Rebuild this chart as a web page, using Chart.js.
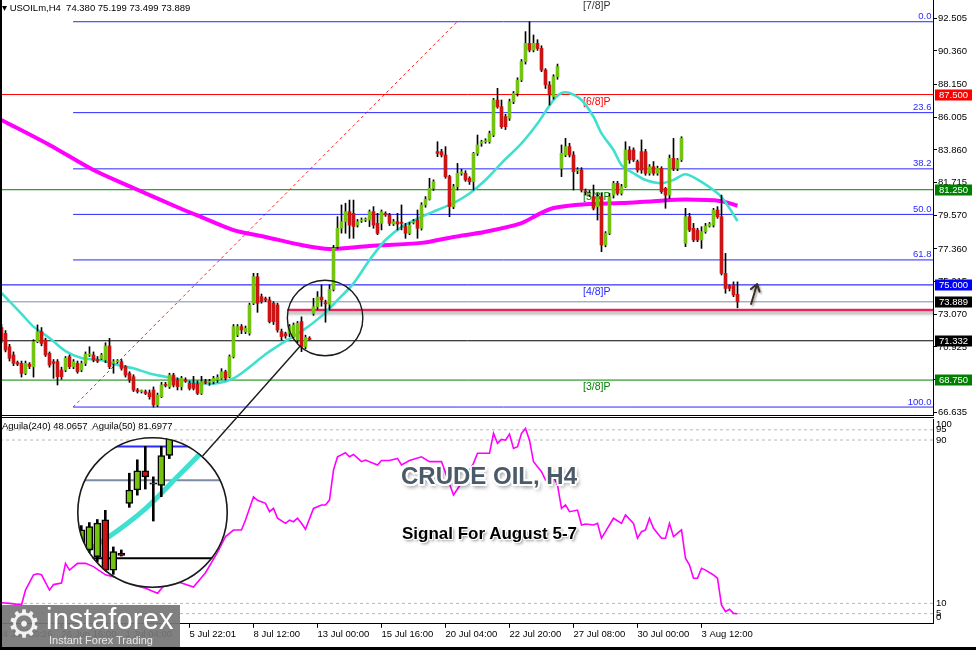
<!DOCTYPE html>
<html>
<head>
<meta charset="utf-8">
<script src="https://cdn.jsdelivr.net/npm/chart.js@4.4.1/dist/chart.umd.min.js"></script>
<style>
  html, body { margin: 0; padding: 0; background: #fff; }
  body { width: 976px; height: 650px; position: relative; overflow: hidden; font-family: 'Liberation Sans', Arial, sans-serif; }
  canvas { position: absolute; left: 0; }
  #price { top: 0; }
  #osc { top: 417px; }
  #overlay { top: 0; pointer-events: none; z-index: 5; }
  #lens { position: absolute; left: 77px; top: 437px; width: 151px; height: 151px; border-radius: 50%; overflow: hidden; background: #fff; z-index: 3; }
  #lens canvas { top: 0; }
  .mt { position: absolute; font-size: 9.5px; color: #000; white-space: nowrap; line-height: 10px; z-index: 4; }
  #title { position: absolute; left: 401px; top: 464px; font-weight: bold; font-size: 24px; line-height: 24px; color: #4b5a68; white-space: nowrap; z-index: 4;
    text-shadow: -1.5px -1.5px 0 #fff, 1.5px -1.5px 0 #fff, -1.5px 1.5px 0 #fff, 1.5px 1.5px 0 #fff, 0 -2px 0 #fff, 0 2px 0 #fff, -2px 0 0 #fff, 2px 0 0 #fff, 2px 3px 4px rgba(0,0,0,0.55); }
  #signal { position: absolute; left: 402px; top: 525px; font-weight: bold; font-size: 17px; line-height: 17px; color: #000; white-space: nowrap; z-index: 4;
    text-shadow: -1px -1px 0 #fff, 1px -1px 0 #fff, -1px 1px 0 #fff, 1px 1px 0 #fff, 2px 2px 3px rgba(0,0,0,0.5); }
  #logo { position: absolute; left: 2px; top: 605px; width: 178px; height: 42px; background: rgba(118,118,118,0.93); z-index: 6; color: #fff; }
  #logo .gear { position: absolute; left: 5px; top: -3px; font-family: 'DejaVu Sans'; font-size: 38px; line-height: 44px; color: #f2f2f2; }
  #logo .name { position: absolute; left: 44px; top: -1px; font-size: 29px; line-height: 30px; letter-spacing: 0.2px; }
  #logo .sub { position: absolute; left: 47px; top: 29px; font-size: 11px; line-height: 12px; color: #e8e8e8; }
  #edgeL { position: absolute; left: 0; top: 0; width: 2px; height: 650px; background: #000; z-index: 7; }
  #edgeB { position: absolute; left: 0; top: 647px; width: 976px; height: 3px; background: #000; z-index: 7; }
</style>
</head>
<body>
<canvas id="price" width="976" height="417"></canvas>
<canvas id="osc" width="976" height="233"></canvas>
<div id="lens"><canvas id="lensChart" width="151" height="151"></canvas></div>
<canvas id="overlay" width="976" height="650"></canvas>
<div class="mt" style="left:2px;top:3px;">&#9662; USOILm,H4&nbsp; 74.380 75.199 73.499 73.889</div>
<div class="mt" style="left:2px;top:421px;">Aguila(240) 48.0657&nbsp; Aguila(50) 81.6977</div>
<div id="title">CRUDE OIL, H4</div>
<div id="signal">Signal For August 5-7</div>
<div id="logo"><span class="gear">&#9881;</span><span class="name">instaforex</span><span class="sub">Instant Forex Trading</span></div>
<div id="edgeL"></div>
<div id="edgeB"></div>
<script>
// H4 candles, one per bar (index = bar number)
const opens = [72.2,71.82,70.94,70.4,69.9,69.85,69.19,69.8,69.63,71.27, 71.93,71.38,70.51,69.96,69.96,69.41,69.41,70.29,69.63,69.85,
  69.41,69.85,70.4,70.4,70.1,70.18,70.07,70.99,69.85,69.96, 69.96,69.63,69.19,68.97,68.1,68.0,67.99,67.92,68.1,67.12,
  67.66,68.43,68.32,69.08,68.76,68.32,68.76,68.54,68.54,68.49, 67.88,68.65,68.6,68.65,68.76,68.87,69.3,68.97,70.29,71.71,
  72.26,71.93,71.82,73.79,75.54,74.23,74.1,74.01,73.79,73.68, 71.93,71.8,71.82,71.6,71.38,72.59,70.94,71.5,73.13,73.57,
  74.2,73.8,73.72,74.7,77.51,78.72,79.15,79.81,79.7,78.93, 79.2,79.26,79.26,79.81,79.04,79.04,79.7,79.59,79.0,79.15,
  79.1,78.83,78.39,79.1,79.26,78.72,80.25,80.62,81.34,83.75, 83.75,83.53,82.11,80.14,81.45,82.33,82.33,82.0,81.78,83.64,
  84.3,84.4,84.4,84.84,87.14,86.7,86.05,85.94,87.03,87.58, 88.45,89.66,90.86,90.42,90.86,90.53,89.11,88.13,87.36,88.67,
  82.65,83.53,84.08,83.53,82.5,82.54,81.15,80.95,80.79,80.14, 80.79,77.62,78.39,80.9,81.67,81.01,81.45,83.86,83.86,83.09,
  83.75,83.75,82.33,82.76,82.33,82.65,81.34,80.9,83.31,82.65, 83.21,77.73,79.48,78.72,78.6,77.95,78.5,78.87,78.93,79.92,
  79.48,75.76,74.93,74.99,74.38];
const highs = [72.4,72.0,71.1,70.6,70.0,70.0,70.0,69.9,71.4,72.37, 72.2,71.5,70.6,70.1,70.1,69.6,70.3,70.4,70.1,70.0,
  70.0,70.6,70.94,70.6,70.3,70.5,71.2,71.49,70.1,70.1, 70.1,69.7,69.3,69.1,68.2,68.1,68.1,68.1,68.3,67.9,
  68.6,68.6,69.2,69.2,68.9,69.0,68.9,68.7,69.0,68.7, 69.0,68.8,68.8,69.0,69.1,69.5,69.4,70.4,72.4,72.4,
  72.4,72.3,73.8,75.76,75.76,74.4,74.2,74.2,73.9,73.8, 72.1,71.9,72.4,72.5,72.6,72.9,71.7,71.6,74.12,74.56,
  75.0,74.0,75.0,77.6,79.48,80.25,80.36,80.57,80.57,79.3, 79.4,79.4,79.92,80.14,79.7,79.92,79.8,79.7,79.3,79.7,
  80.25,79.04,79.1,79.3,79.92,80.4,80.8,82.0,81.9,84.4, 83.9,84.08,82.2,81.6,82.98,82.6,82.5,82.1,83.7,84.84,
  84.5,84.6,85.1,87.25,87.91,87.14,86.2,87.2,87.7,88.6, 89.8,91.63,92.28,91.41,91.1,90.7,89.2,88.35,88.8,89.5,
  84.19,84.62,84.3,83.75,82.7,82.7,81.3,81.2,81.56,81.01, 81.01,78.5,81.01,81.8,81.8,81.6,84.4,84.08,84.0,83.2,
  84.52,83.9,82.9,83.1,82.8,82.76,81.4,83.53,84.62,83.3, 84.73,80.03,79.7,79.04,78.72,78.82,79.04,79.1,80.03,80.14,
  80.9,77.07,75.0,75.2,75.199];
const lows = [71.2,70.6,70.0,69.7,69.7,68.95,69.1,69.5,68.95,71.2, 71.0,70.3,69.6,68.87,68.43,68.8,69.3,69.5,69.5,69.2,
  69.3,69.7,70.3,69.95,69.9,70.1,69.9,69.5,69.2,69.85, 69.4,68.95,68.6,68.0,67.9,67.9,67.8,67.5,66.98,67.0,
  67.6,68.3,68.2,68.3,68.1,68.1,68.6,68.1,68.1,67.8, 67.8,68.5,68.4,68.5,68.6,68.8,68.75,68.9,70.2,71.6,
  71.8,71.8,71.7,73.7,73.2,73.8,73.9,72.5,72.4,71.9, 71.4,71.5,71.6,71.5,71.2,70.62,70.8,71.4,73.0,73.4,
  73.6,72.55,73.35,74.6,77.4,78.4,78.39,78.06,78.06,78.8, 79.1,79.15,78.83,78.72,78.3,78.61,79.5,78.9,78.9,78.61,
  78.61,78.06,78.3,79.0,78.06,78.6,80.1,80.57,81.2,83.42, 83.4,82.0,79.48,80.0,81.23,82.2,81.8,81.6,81.23,83.5,
  84.1,84.3,84.3,84.73,86.6,85.28,85.2,85.8,86.9,87.4, 88.35,89.5,90.3,90.3,90.4,89.0,87.9,86.81,87.2,88.5,
  82.11,83.42,83.4,81.23,82.3,81.1,80.9,80.8,79.92,79.26, 77.18,77.5,78.3,80.7,80.9,80.9,81.4,82.98,83.1,82.4,
  82.33,82.2,82.2,82.2,82.2,81.01,80.03,80.68,82.5,82.5, 83.1,77.51,78.5,77.84,77.84,77.4,78.39,78.8,78.8,79.37,
  75.65,74.45,74.6,74.23,73.499];
const closes = [71.4,70.73,70.18,69.85,69.8,69.19,69.85,69.65,71.27,71.93, 71.16,70.4,69.74,69.85,68.97,68.97,70.18,69.63,69.96,69.3,
  69.85,70.46,70.45,70.07,70.0,70.4,70.99,69.63,69.96,70.0, 69.52,69.08,68.76,68.1,68.0,68.05,67.88,67.66,67.12,67.77,
  68.43,68.4,69.08,68.43,68.32,68.87,68.7,68.21,68.21,67.88, 68.65,68.6,68.65,68.87,68.93,69.3,68.87,70.29,72.26,72.26,
  72.04,72.15,73.68,75.54,73.79,73.9,74.0,72.59,72.59,72.04, 71.6,71.65,72.26,72.37,72.48,70.94,71.55,71.42,73.57,74.2,
  74.0,73.76,74.7,77.4,78.72,79.15,79.81,78.93,78.83,79.15, 79.26,79.3,79.81,78.93,78.39,79.81,79.6,79.04,79.15,79.0,
  79.04,78.39,78.93,79.15,78.72,80.25,80.62,81.34,81.78,83.64, 83.53,82.11,80.14,81.45,82.33,82.43,81.89,81.78,83.64,84.19,
  84.4,84.42,84.95,87.14,86.7,85.39,85.39,87.03,87.58,88.45, 89.66,90.86,90.42,90.86,90.53,89.11,88.13,87.47,88.67,89.33,
  83.64,84.08,83.53,82.43,82.54,81.23,81.1,81.0,80.03,80.79, 77.62,78.39,80.79,81.67,81.01,81.45,83.86,83.21,83.21,82.54,
  82.54,82.33,82.76,82.33,82.65,81.12,80.9,83.31,82.65,83.21, 84.62,79.48,78.6,77.95,77.95,78.5,78.87,79.0,79.92,79.48,
  75.76,74.77,74.77,74.34,73.889];

// moving averages (bar index, value)
const fastIdx = [0,5,8,12,16,20,25,29,33,37,41,45,50,54,58,62,66,70,75,80,84,88,92,96,100,105,109,113,117,121,125,130,134,138,140,142,145,148,150,153,155,158,161,165,168,171,175,180,184];
const fastVal = [74.47,73.1,72.26,71.51,70.65,70.2,70.05,69.74,69.52,69.19,68.97,68.76,68.54,68.54,68.86,69.6,70.45,71.15,71.95,72.95,74.0,75.1,76.63,77.95,78.8,79.47,79.92,80.37,81.0,81.89,83.0,84.3,85.6,87.14,87.6,87.6,87.14,86.04,84.95,83.86,82.87,82.33,81.89,81.68,81.89,82.27,81.76,80.77,79.2];
const slowIdx = [0,12,23,33,44,50,58,66,75,82,92,105,113,121,130,134,138,146,155,163,171,180,184];
const slowVal = [85.83,84.19,82.54,81.36,80.1,79.45,78.6,78.15,77.62,77.36,77.56,77.76,78.15,78.49,79.06,79.6,80.05,80.3,80.37,80.5,80.6,80.5,80.2];

// Aguila oscillator (bar index, value)
const oscIdx = [0,2,5,6,8,9,10,12,13,15,16,17,19,21,23,26,30,33,36,39,42,45,48,51,54,56,58,60,61,63,64,66,67,68,69,71,72,73,74,75,76,78,80,81,82,83,84,86,87,88,90,91,94,95,97,99,100,102,105,107,110,113,114,116,118,119,122,123,124,125,126,127,128,129,130,131,132,133,135,136,138,139,140,141,142,144,145,146,148,149,150,151,153,155,156,158,159,160,161,162,163,165,166,167,168,170,171,172,173,174,175,176,178,179,180,181,182,183,184];
const oscVal = [10.3,10.0,9.3,16.5,23.9,24.5,24.0,16.5,19.2,20,29.6,26.3,29.6,29.6,28,24,22,19,17.4,15,22,20,18,25,35,42.7,45.9,45.9,50.8,62.2,60.5,59,54.9,56.5,51.7,49.2,50.8,50,51.7,49.2,46.3,56.5,58.2,58.2,60.6,75.3,81.8,83.8,81.8,82.9,79.4,80.2,77.8,80,80,81,77.8,80,81.8,79.4,79.4,63.1,66,72,78.6,83.5,83.5,93.3,88.4,90.3,89.9,92.9,85.9,86.7,93.3,95.7,89.9,79.4,74.5,70.4,72,68,56.5,58.2,54.9,55.7,48.4,48.9,48.4,49.2,41.9,45.1,51.7,49.2,53.3,49.2,41.9,45.1,46,51.7,46.8,41.9,41.9,49.2,42.7,46,32.1,28.8,22.3,22.3,27.2,26.3,23.9,22.3,9.2,5.9,7.1,5.1,4.9];
const oscGrid = [95, 90, 10, 5];
const oscLabels = [100, 95, 90, 10, 5, 0];

// axes
const priceTicks = [92.505, 90.360, 88.150, 86.005, 83.860, 81.715, 79.570, 77.360, 75.215, 73.070, 70.925, 68.780, 66.635];
const timeTickIdx = [-1, 15, 31, 47, 63, 79, 95, 111, 127, 143, 159, 175];
const timeTickLabels = ['24 Jun 20:26', '26 Jun 16:00', '1 Jul 04:00', '5 Jul 22:01', '8 Jul 12:00', '13 Jul 00:00', '15 Jul 16:00', '20 Jul 04:00', '22 Jul 20:00', '27 Jul 08:00', '30 Jul 00:00', '3 Aug 12:00'];

// fibonacci retracement
const fibLabels = ['0.0', '23.6', '38.2', '50.0', '61.8', '100.0'];
const fibPrices = [92.28, 86.31, 82.62, 79.63, 76.64, 66.98];
const fibStartIdx = 17.9;
const fibTrendIdx = [17.9, 113.9];
const fibTrendVal = [66.98, 92.28];

// murrey math levels
const murreyLabels = ['[7/8]P', '[6/8]P', '[5/8]P', '[4/8]P', '[3/8]P'];
const murreyVals = [93.75, 87.5, 81.25, 75.0, 68.75];
const murreyColors = ['#333333', '#ff0000', '#008000', '#2a2aff', '#008000'];
const murreyLabelIdx = 145.4;

// other lines and the boxes on the price scale
const bidPrice = 73.889;
const pivotLevel = 73.35, pivotStartIdx = 71.4;
const supportLevel = 71.332;
const tagVals = [87.5, 81.25, 75.0, 73.889, 71.332, 68.75];
const tagColors = ['#ff0000', '#008000', '#0000ff', '#000000', '#000000', '#008000'];

// magnifier
const lensCenterIdx = 80.9, lensCenterPrice = 72.83, lensZoom = 2;
const lensLeft = 77, lensTop = 437, lensSize = 151;
const arrowFrom = [187.4, 73.75], arrowTo = [188.9, 75.06];

const xMin = 0.125, xMax = 232.875;
const BULL = '#74c212', BEAR = '#cc1414';
const FONT = '"Liberation Sans", Arial, sans-serif';
const FIB = '#2828ff';

function candleSets(bodyW, wickW, edge) {
  return [
    { type: 'bar', label: 'wick', data: highs.map((h, i) => ({ x: i, y: [lows[i], h] })),
      backgroundColor: '#000', barThickness: wickW, grouped: false, order: 1 },
    { type: 'bar', label: 'body', data: opens.map((o, i) => ({ x: i, y: [o, closes[i]] })),
      backgroundColor: opens.map((o, i) => closes[i] >= o ? BULL : BEAR),
      borderColor: '#000', borderWidth: edge, borderSkipped: false,
      barThickness: bodyW, minBarLength: 1, grouped: false, order: 0 }
  ];
}

function hline(v, from, color, width, dash, label) {
  return { type: 'line', label: label || 'level', data: [{ x: from, y: v }, { x: xMax + 2, y: v }],
    borderColor: color, borderWidth: width, borderDash: dash || [], pointRadius: 0, order: 6 };
}

function curve(idx, vals, color, width, label) {
  return { type: 'line', label, data: idx.map((x, k) => ({ x, y: vals[k] })),
    borderColor: color, borderWidth: width, pointRadius: 0, tension: 0.3, order: 3 };
}

const priceSets = [
  ...candleSets(3, 1, 0),
  curve(fastIdx, fastVal, '#40e0d0', 2.6, 'fast'),
  curve(slowIdx, slowVal, '#ff00ff', 4, 'slow'),
  ...fibPrices.map(v => hline(v, fibStartIdx, FIB, 1)),
  ...murreyVals.map((v, k) => hline(v, xMin - 2, murreyColors[k] === '#2a2aff' ? '#0000ff' : murreyColors[k], 1)),
  hline(bidPrice, xMin - 2, '#7d8ca3', 1),
  hline(supportLevel, xMin - 2, '#000', 1),
  Object.assign(hline(pivotLevel, pivotStartIdx, '#e5245a', 2.5, [], 'pivot'), { order: 4 }),
  { type: 'line', label: 'trend', data: fibTrendIdx.map((x, k) => ({ x, y: fibTrendVal[k] })),
    borderColor: '#ff2020', borderWidth: 1, borderDash: [3, 3], pointRadius: 0, order: 6 }
];

const priceDecor = {
  id: 'priceDecor',
  beforeDatasetsDraw(chart) {
    const { ctx, chartArea: a, scales: { x, y } } = chart;
    ctx.save();
    ctx.font = '10.5px ' + FONT;
    ctx.textAlign = 'left';
    ctx.textBaseline = 'top';
    murreyVals.forEach((v, k) => {
      ctx.fillStyle = murreyColors[k];
      ctx.fillText(murreyLabels[k], x.getPixelForValue(murreyLabelIdx), y.getPixelForValue(v) + 2);
    });
    ctx.font = '9.5px ' + FONT;
    ctx.textAlign = 'right';
    ctx.textBaseline = 'alphabetic';
    ctx.fillStyle = FIB;
    fibPrices.forEach((v, k) => ctx.fillText(fibLabels[k], a.right - 1.5, y.getPixelForValue(v) - 2.5));
    ctx.restore();
  },
  beforeDatasetDraw(chart, args) {
    if (chart.data.datasets[args.index].label === 'pivot') {
      chart.ctx.save();
      chart.ctx.shadowColor = 'rgba(0,0,0,0.35)';
      chart.ctx.shadowOffsetY = 3;
      chart.ctx.shadowBlur = 3;
    }
  },
  afterDatasetDraw(chart, args) {
    if (chart.data.datasets[args.index].label === 'pivot') chart.ctx.restore();
  },
  afterDraw(chart) {
    const { ctx, chartArea: a, scales: { y } } = chart;
    ctx.save();
    ctx.fillStyle = '#000';
    ctx.fillRect(0, a.bottom, a.right + 1, 1);
    ctx.font = '9.5px ' + FONT;
    ctx.textAlign = 'center';
    ctx.textBaseline = 'middle';
    tagVals.forEach((v, k) => {
      const py = Math.round(y.getPixelForValue(v));
      ctx.fillStyle = tagColors[k];
      ctx.fillRect(a.right + 2, py - 5.5, 37, 11);
      ctx.fillStyle = '#fff';
      ctx.fillText(v.toFixed(3), a.right + 20.5, py + 0.5);
    });
    ctx.restore();
  }
};

const price = new Chart(document.getElementById('price'), {
  type: 'bar',
  data: { datasets: priceSets },
  options: {
    responsive: false, animation: false, devicePixelRatio: 1,
    layout: { padding: { left: 2, top: 0, right: 0, bottom: 2 } },
    plugins: { legend: { display: false }, tooltip: { enabled: false } },
    scales: {
      x: { type: 'linear', min: xMin, max: xMax, offset: false, display: false },
      y: { type: 'linear', position: 'right', min: 66.458, max: 93.707,
        afterFit: s => { s.width = 43; s.paddingTop = 0; s.paddingBottom = 0; },
        afterBuildTicks: s => { s.ticks = priceTicks.map(v => ({ value: v })); },
        ticks: { autoSkip: false, padding: 1, color: '#000', font: { family: FONT, size: 9.5 }, callback: v => v.toFixed(3) },
        grid: { display: true, drawOnChartArea: false, drawTicks: true, tickLength: 4, color: '#000' },
        border: { display: true, color: '#000' } }
    }
  },
  plugins: [priceDecor]
});

const oscDecor = {
  id: 'oscDecor',
  afterDraw(chart) {
    const { ctx, chartArea: a, scales: { y } } = chart;
    ctx.save();
    ctx.fillStyle = '#000';
    ctx.fillRect(0, 0, a.right + 1, 1);
    ctx.font = '9.5px ' + FONT;
    ctx.textAlign = 'left';
    ctx.textBaseline = 'middle';
    oscLabels.forEach(v => {
      const py = Math.min(Math.max(y.getPixelForValue(v), a.top + 5), a.bottom - 6);
      ctx.fillText(String(v), a.right + 3, py);
    });
    ctx.restore();
  }
};

const osc = new Chart(document.getElementById('osc'), {
  type: 'line',
  data: { datasets: [
    { label: 'aguila', data: oscIdx.map((x, k) => ({ x, y: oscVal[k] })), borderColor: '#ff00ff', borderWidth: 1.6, pointRadius: 0, order: 0 },
    ...oscGrid.map(v => ({ label: 'grid', data: [{ x: xMin - 2, y: v }, { x: xMax + 2, y: v }], borderColor: '#b8b8b8', borderWidth: 1, borderDash: [3, 3], pointRadius: 0, order: 5 }))
  ] },
  options: {
    responsive: false, animation: false, devicePixelRatio: 1,
    layout: { padding: { left: 2, top: 2.6, right: 0, bottom: 0 } },
    plugins: { legend: { display: false }, tooltip: { enabled: false } },
    scales: {
      x: { type: 'linear', min: xMin, max: xMax, offset: false,
        afterFit: s => { s.height = 26.2; s.paddingLeft = 0; s.paddingRight = 0; },
        afterBuildTicks: s => { s.ticks = timeTickIdx.map(v => ({ value: v })); },
        ticks: { autoSkip: false, maxRotation: 0, align: 'start', padding: 1, color: '#000', font: { family: FONT, size: 9.5 },
          callback: (v, k) => timeTickLabels[k] },
        grid: { drawOnChartArea: false, drawTicks: true, tickLength: 4, color: '#000' },
        border: { display: true, color: '#000' } },
      y: { type: 'linear', position: 'right', min: 0, max: 100,
        afterFit: s => { s.width = 43; s.paddingTop = 0; s.paddingBottom = 0; },
        ticks: { display: false }, grid: { display: false },
        border: { display: true, color: '#000' } }
    }
  },
  plugins: [oscDecor]
});

// magnifier: same series, scaled around the small circle
const px = price.scales.x, py = price.scales.y;
const pxPerBar = px.getPixelForValue(1) - px.getPixelForValue(0);
const pxPerUnit = py.getPixelForValue(0) - py.getPixelForValue(1);
const halfBars = lensSize / 2 / lensZoom / pxPerBar;
const halfUnits = lensSize / 2 / lensZoom / pxPerUnit;

new Chart(document.getElementById('lensChart'), {
  type: 'bar',
  data: { datasets: [
    ...candleSets(7, 2, 1.5),
    curve(fastIdx, fastVal, '#40e0d0', 5, 'fast'),
    hline(75.0, xMin - 2, '#2a2aff', 2),
    hline(bidPrice, xMin - 2, '#7d8ca3', 2),
    hline(supportLevel, xMin - 2, '#000', 2)
  ] },
  options: {
    responsive: false, animation: false, devicePixelRatio: 1,
    layout: { padding: 0 },
    plugins: { legend: { display: false }, tooltip: { enabled: false } },
    scales: {
      x: { type: 'linear', display: false, offset: false, min: lensCenterIdx - halfBars, max: lensCenterIdx + halfBars },
      y: { type: 'linear', display: false, min: lensCenterPrice - halfUnits, max: lensCenterPrice + halfUnits }
    }
  }
});

// circles, connector and the hand-drawn arrow
(function drawOverlay() {
  const g = document.getElementById('overlay').getContext('2d');
  const sx = px.getPixelForValue(lensCenterIdx), sy = py.getPixelForValue(lensCenterPrice);
  const sr = lensSize / 2 / lensZoom;
  const lx = lensLeft + lensSize / 2, ly = lensTop + lensSize / 2, lr = lensSize / 2;
  const dx = sx - lx, dy = sy - ly, d = Math.hypot(dx, dy);
  g.strokeStyle = '#1a1a1a';
  g.lineWidth = 1.4;
  g.beginPath();
  g.moveTo(lx + dx / d * lr, ly + dy / d * lr);
  g.lineTo(sx - dx / d * sr, sy - dy / d * sr);
  g.stroke();
  g.beginPath(); g.arc(sx, sy, sr, 0, Math.PI * 2); g.stroke();
  g.lineWidth = 1.6;
  g.beginPath(); g.arc(lx, ly, lr - 0.8, 0, Math.PI * 2); g.stroke();

  const ax = px.getPixelForValue(arrowFrom[0]), ay = py.getPixelForValue(arrowFrom[1]);
  const bx = px.getPixelForValue(arrowTo[0]), by = py.getPixelForValue(arrowTo[1]);
  const ang = Math.atan2(by - ay, bx - ax);
  g.save();
  g.shadowColor = 'rgba(0,0,0,0.35)'; g.shadowOffsetX = 1.5; g.shadowOffsetY = 1.5; g.shadowBlur = 2;
  g.strokeStyle = '#3b2c1e'; g.lineWidth = 2; g.lineCap = 'round';
  g.beginPath();
  g.moveTo(ax, ay); g.lineTo(bx, by);
  g.moveTo(bx, by); g.lineTo(bx - 8 * Math.cos(ang - 0.6), by - 8 * Math.sin(ang - 0.6));
  g.moveTo(bx, by); g.lineTo(bx - 8 * Math.cos(ang + 0.6), by - 8 * Math.sin(ang + 0.6));
  g.stroke();
  g.restore();
})();
</script>
</body>
</html>
